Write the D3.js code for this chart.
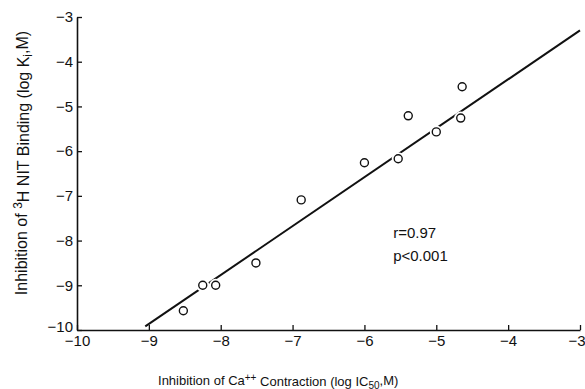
<!DOCTYPE html>
<html>
<head>
<meta charset="utf-8">
<script src="https://cdn.jsdelivr.net/npm/d3@7"></script>
<style>
  body { margin: 0; background: #fff; }
  svg { display: block; }
  text { font-family: "Liberation Sans", Arial, sans-serif; fill: #111; }
</style>
</head>
<body>
<div id="chart"></div>
<script>
// IC50 of Ca++ contraction (x) vs Ki of 3H NIT binding (y), both log M
const contractionLogIC50 = [-8.52, -8.25, -8.07, -7.51, -6.88, -6.0, -5.53, -5.39, -5.0, -4.66, -4.64];
const bindingLogKi = [-9.57, -9.0, -9.0, -8.5, -7.09, -6.26, -6.17, -5.21, -5.57, -5.26, -4.56];

// regression line end points
const fitX = [-9.05, -3.0];
const fitY = [-9.92, -3.3];

const xTicks = [-10, -9, -8, -7, -6, -5, -4, -3];
const yTicks = [-10, -9, -8, -7, -6, -5, -4, -3];

const stats = ["r=0.97", "p<0.001"];

const width = 585, height = 389;
const margin = { top: 17, right: 5, bottom: 59, left: 77 };
const innerWidth = width - margin.left - margin.right;
const innerHeight = height - margin.top - margin.bottom;

const svg = d3.select("#chart")
  .append("svg")
  .attr("width", width)
  .attr("height", height);

const g = svg.append("g")
  .attr("transform", `translate(${margin.left}, ${margin.top})`);

const x = d3.scaleLinear().domain([-10, -3]).range([0, innerWidth]);
const y = d3.scaleLinear().domain([-10, -3]).range([innerHeight, 0]);
const fmt = d3.format("d");

// axes, ticks point inward
const xAxis = g.append("g")
  .attr("transform", `translate(0, ${innerHeight})`)
  .call(d3.axisBottom(x).tickValues(xTicks).tickFormat(fmt).tickSizeInner(-5).tickSizeOuter(0).tickPadding(5));

const yAxis = g.append("g")
  .call(d3.axisLeft(y).tickValues(yTicks).tickFormat(fmt).tickSizeInner(-5).tickSizeOuter(0).tickPadding(4));

[xAxis, yAxis].forEach(ax => {
  ax.select(".domain").attr("stroke", "#111").attr("stroke-width", 1.6);
  ax.selectAll(".tick line").attr("stroke", "#111").attr("stroke-width", 1.3);
  ax.selectAll("text").style("font-size", "15px").attr("fill", "#111");
});
// corner label sits a bit higher on the y axis
yAxis.selectAll(".tick").filter(d => d === -10).select("text").attr("dy", "0.1em");
// last x label kept inside the page
xAxis.selectAll(".tick").filter(d => d === -3).select("text")
  .attr("text-anchor", "end").attr("x", 5);

// regression line
const line = d3.line().x(d => x(d[0])).y(d => y(d[1]));
g.append("path")
  .datum(d3.zip(fitX, fitY))
  .attr("d", line)
  .attr("fill", "none")
  .attr("stroke", "#111")
  .attr("stroke-width", 2);

const pts = d3.zip(contractionLogIC50, bindingLogKi);

// white halo breaks the line around each marker
g.selectAll(".halo")
  .data(pts)
  .enter()
  .append("circle")
  .attr("class", "halo")
  .attr("cx", d => x(d[0]))
  .attr("cy", d => y(d[1]))
  .attr("r", 6.5)
  .attr("fill", "#fff");

g.selectAll(".pt")
  .data(pts)
  .enter()
  .append("circle")
  .attr("class", "pt")
  .attr("cx", d => x(d[0]))
  .attr("cy", d => y(d[1]))
  .attr("r", 4)
  .attr("fill", "#fff")
  .attr("stroke", "#111")
  .attr("stroke-width", 1.4);

// r and p annotation
g.selectAll(".stat")
  .data(stats)
  .enter()
  .append("text")
  .attr("class", "stat")
  .attr("x", x(-5.6))
  .attr("y", (d, i) => y(-7.95) + i * 23)
  .style("font-size", "15px")
  .text(d => d);

// axis titles
const xTitle = svg.append("text")
  .attr("x", margin.left + x(-7.2))
  .attr("y", 385)
  .attr("text-anchor", "middle")
  .style("font-size", "13px");
xTitle.append("tspan").text("Inhibition of Ca");
xTitle.append("tspan").attr("dy", "-0.45em").style("font-size", "10px").text("++");
xTitle.append("tspan").attr("dy", "0.45em").text(" Contraction (log IC");
xTitle.append("tspan").attr("dy", "0.3em").style("font-size", "10px").text("50");
xTitle.append("tspan").attr("dy", "-0.3em").text(",M)");

const yTitle = svg.append("text")
  .attr("transform", `translate(27, 163) rotate(-90)`)
  .attr("text-anchor", "middle")
  .style("font-size", "16px");
yTitle.append("tspan").text("Inhibition of ");
yTitle.append("tspan").attr("dy", "-0.45em").style("font-size", "12px").text("3");
yTitle.append("tspan").attr("dy", "0.45em").text("H NIT Binding (log K");
yTitle.append("tspan").attr("dy", "0.3em").style("font-size", "12px").text("i");
yTitle.append("tspan").attr("dy", "-0.3em").text(",M)");
</script>
</body>
</html>
